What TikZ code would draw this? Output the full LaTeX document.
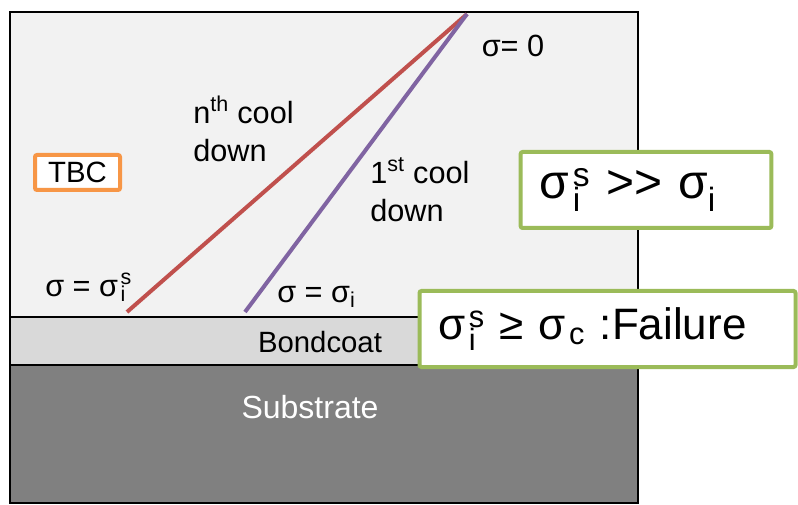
\documentclass[tikz,border=0pt]{standalone}
\usepackage{fontspec}
\setmainfont{Liberation Sans}
\usetikzlibrary{positioning}
\definecolor{tbcc}{HTML}{F2F2F2}\definecolor{bcc}{HTML}{D9D9D9}\definecolor{subc}{HTML}{808080}
\definecolor{orc}{HTML}{F79646}\definecolor{grc}{HTML}{9BBB59}\definecolor{rdc}{HTML}{C0504D}\definecolor{puc}{HTML}{8064A2}
\tikzset{t/.style={font=\fontsize{23}{28.5}\selectfont,inner sep=0pt,align=left},
 gb/.style={draw=grc,line width=3pt,fill=white,rounded corners=1.5pt,align=left,inner xsep=14pt,minimum height=57pt},
 ln/.style={line width=3pt}}
\newcommand{\sgis}{σ\kern.08em\rlap{\textsubscript{i}}\textsuperscript{s}}

\begin{document}
\begin{tikzpicture}[x=0.75pt,y=-0.75pt]
\useasboundingbox (0,0) rectangle (798,505);
\fill[tbcc](10,12) rectangle (638,317);\fill[bcc](10,317) rectangle (638,365);\fill[subc](10,365) rectangle (638,503);
\draw[line width=1.1pt](10,317)--(638,317) (10,365)--(638,365);\draw[line width=2pt](10,12) rectangle (638,503);
\coordinate (o) at (467,14);\coordinate (rb) at (127,312);\coordinate (pb) at (245,312);
\draw[ln,rdc](rb)--(o);\draw[ln,puc](pb)--(o);
\node[t](z) at (513,46){σ= 0};
\node[t,anchor=west](n) at (193,129){n\textsuperscript{th} cool\\down};
\node[t,anchor=west](f) at (370,190){1\textsuperscript{st} cool\\down};
\node[t,draw=orc,line width=3pt,fill=white,rounded corners=1.5pt,minimum width=63.75pt,minimum height=26.25pt,font=\fontsize{22}{26}\selectfont](tbc) at (77.5,172.5){TBC};
\node[t,anchor=base west](ss) at (45,297){σ = \sgis};
\node[t,anchor=base west](si) at (277,303){σ = σ\textsubscript{i}};
\node[t,anchor=base,font=\fontsize{22}{26}\selectfont](bc) at (320,352){Bondcoat};
\node[t,anchor=base,white,font=\fontsize{24}{28}\selectfont](sb) at (310,418){Substrate};
\node[gb,text width=160pt,font=\fontsize{36}{42}\selectfont](g1) at (646,190){\sgis{} >\kern0pt> σ\textsubscript{i}};
\node[gb,text width=254pt,font=\fontsize{33}{38}\selectfont](g2) at (607.5,329){\sgis{} ≥ σ\kern.08em\textsubscript{c} :Failure};
\end{tikzpicture}
\end{document}
